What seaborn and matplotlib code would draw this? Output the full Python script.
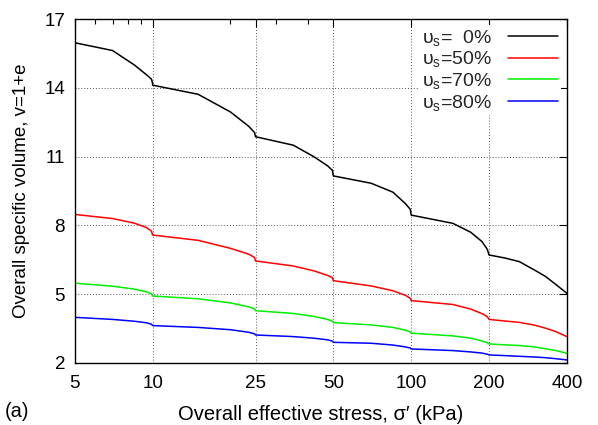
import matplotlib
matplotlib.use("Agg")
import matplotlib.pyplot as plt
import seaborn as sns
import pandas as pd
from matplotlib.ticker import FixedLocator, NullFormatter, FixedFormatter

# ---- data ----
stress = [5, 7, 8.5, 9.5, 9.9, 10, 10, 15, 20, 23.5, 24.8, 25, 25, 35, 42, 47.5, 49.6, 50,
          50, 70, 85, 95, 99.2, 100, 100, 145, 170, 188, 197, 200,
          200, 230, 262, 300, 330, 360, 400]
v_0 = [15.97, 15.63, 15.0, 14.56, 14.38, 14.2, 14.12, 13.72, 12.95, 12.33, 12.05, 11.87,
       11.87, 11.5, 11.0, 10.6, 10.4, 10.16, 10.16, 9.84, 9.45, 8.95, 8.7, 8.45,
       8.45, 8.09, 7.7, 7.29, 6.95, 6.71,
       6.71, 6.58, 6.42, 6.05, 5.78, 5.45, 5.04]
v_50 = [8.48, 8.3, 8.1, 7.9, 7.75, 7.58, 7.58, 7.35, 7.0, 6.75, 6.6, 6.45, 6.45, 6.23,
        6.02, 5.82, 5.72, 5.59, 5.59, 5.36, 5.15, 4.95, 4.82, 4.72, 4.72, 4.55, 4.35,
        4.15, 4.02, 3.9,
        3.9, 3.83, 3.77, 3.65, 3.52, 3.38, 3.15]
v_70 = [5.48, 5.35, 5.22, 5.1, 5.02, 4.92, 4.92, 4.8, 4.62, 4.45, 4.36, 4.28, 4.28, 4.16,
        4.03, 3.9, 3.82, 3.76, 3.76, 3.66, 3.55, 3.43, 3.35, 3.3, 3.3, 3.18, 3.08, 2.96,
        2.88, 2.83,
        2.83, 2.79, 2.76, 2.7, 2.62, 2.55, 2.42]
v_80 = [3.99, 3.9, 3.82, 3.75, 3.69, 3.63, 3.63, 3.55, 3.45, 3.34, 3.27, 3.22, 3.22, 3.15,
        3.08, 3.01, 2.95, 2.9, 2.9, 2.86, 2.78, 2.7, 2.65, 2.61, 2.61, 2.54, 2.48, 2.43,
        2.38, 2.35,
        2.35, 2.32, 2.29, 2.26, 2.23, 2.19, 2.13]
series_names = ["0%", "50%", "70%", "80%"]
legend_labels = [r"$\mathregular{υ_{s}}$=  0%", r"$\mathregular{υ_{s}}$=50%",
                 r"$\mathregular{υ_{s}}$=70%", r"$\mathregular{υ_{s}}$=80%"]
colors = ["#000000", "#ff0000", "#00ee00", "#0000ff"]
x_ticks = [5, 10, 25, 50, 100, 200, 400]
x_minor = [6, 7, 8, 9, 20, 30, 40]
y_ticks = [2, 5, 8, 11, 14, 17]

rows = []
for name, vals in zip(series_names, [v_0, v_50, v_70, v_80]):
    for s, v in zip(stress, vals):
        rows.append({"stress": s, "volume": v, "series": name})
df = pd.DataFrame(rows)

sns.set_theme(style="white")
plt.rcParams["font.family"] = ["Liberation Sans", "DejaVu Sans"]
plt.rcParams["mathtext.fontset"] = "custom"
plt.rcParams["mathtext.rm"] = "Liberation Sans"

fig = plt.figure(figsize=(5.98, 4.25), dpi=100)
ax = fig.add_axes([0.125, 0.146, 0.823, 0.809])

sns.lineplot(data=df, x="stress", y="volume", hue="series", palette=colors,
             estimator=None, sort=False, legend=False, linewidth=1.1, ax=ax)

ax.set_xscale("log")
ax.set_xlim(5, 400)
ax.set_ylim(2, 17)
ax.xaxis.set_major_locator(FixedLocator(x_ticks))
ax.xaxis.set_major_formatter(FixedFormatter([str(t) for t in x_ticks]))
ax.xaxis.set_minor_locator(FixedLocator(x_minor))
ax.xaxis.set_minor_formatter(NullFormatter())
ax.set_yticks(y_ticks)
ax.set_yticklabels([str(t) for t in y_ticks])

ax.grid(True, which="major", linestyle=(0, (1, 2)), color="#555555", linewidth=0.7)
ax.tick_params(which="both", direction="in", top=True, right=True, colors="black",
               labelsize=13.5)
ax.tick_params(axis="x", which="major", length=6, width=0.8, pad=9)
ax.tick_params(axis="y", which="major", length=6, width=0.8, pad=7)
ax.tick_params(which="minor", length=3.5, width=0.8)
for sp in ax.spines.values():
    sp.set_color("black")
    sp.set_linewidth(1.0)

ax.set_xlabel("Overall effective stress, σ′ (kPa)", fontsize=14.5, color="black", labelpad=9)
ax.set_ylabel("Overall specific volume, v=1+e", fontsize=13.5, color="black", labelpad=10)

handles = ax.lines[:4]
leg = ax.legend(handles, legend_labels, loc="upper right", markerfirst=False,
                fontsize=14, frameon=True, framealpha=1, edgecolor="none",
                facecolor="white", handlelength=2.6, labelspacing=0.08,
                borderpad=0.15, borderaxespad=0.3, handletextpad=0.8,
                fancybox=False)

fig.text(0.008, 0.018, "(a)", fontsize=14.5, color="black", va="baseline")

fig.savefig("out.png", dpi=100)
